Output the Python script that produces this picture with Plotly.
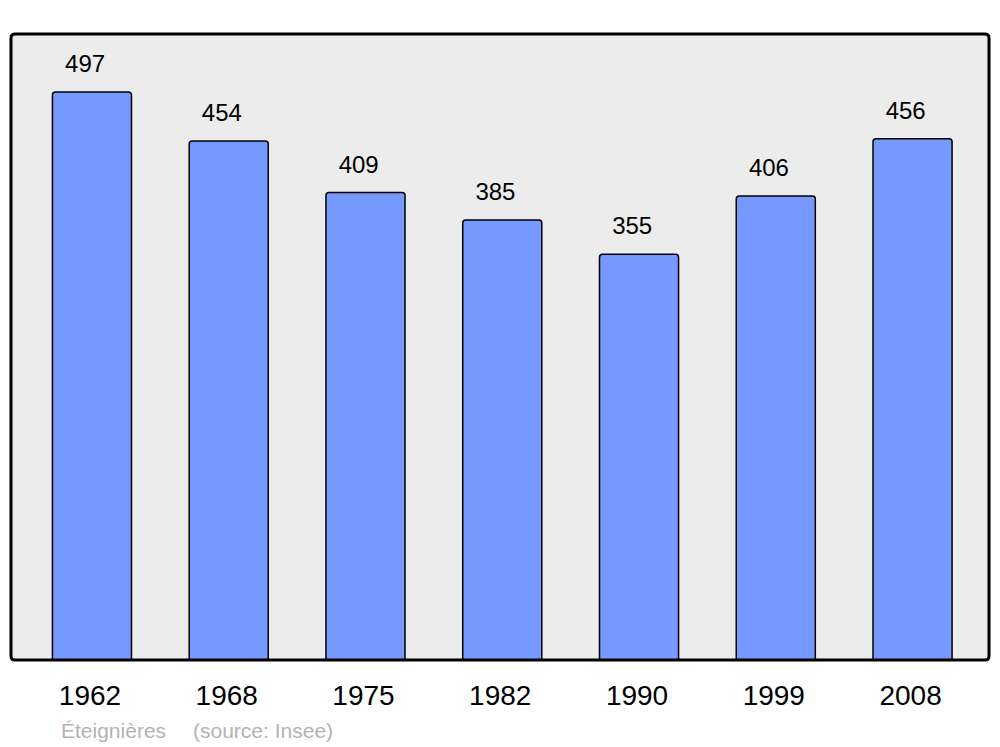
import plotly.graph_objects as go

years = ["1962", "1968", "1975", "1982", "1990", "1999", "2008"]
population = [497, 454, 409, 385, 355, 406, 456]
commune = "Éteignières"
source = "(source: Insee)"

W, H = 1000, 747
plot_w, plot_h = 978, 626
px_per_unit = 568 / 497
label_gap = 26 / px_per_unit

fig = go.Figure()

fig.add_trace(go.Bar(
    x=list(range(len(years))), y=population,
    width=0.578,
    marker=dict(color="#7599ff", line=dict(color="black", width=1.5), cornerradius=3),
    hoverinfo="none", showlegend=False,
))

# value labels above each bar
fig.add_trace(go.Scatter(
    x=[i - 0.05 for i in range(len(years))],
    y=[v + label_gap for v in population],
    mode="text", text=[str(v) for v in population],
    textposition="middle center",
    textfont=dict(size=24, color="black", family="Liberation Sans"),
    hoverinfo="none", showlegend=False, cliponaxis=False,
))

# plot frame with rounded corners
rx, ry = 4 / plot_w, 4 / plot_h
frame = (f"M {rx},0 L {1-rx},0 Q 1,0 1,{ry} L 1,{1-ry} Q 1,1 {1-rx},1 "
         f"L {rx},1 Q 0,1 0,{1-ry} L 0,{ry} Q 0,0 {rx},0 Z")
fig.add_shape(type="path", path=frame, xref="paper", yref="paper",
              line=dict(color="black", width=3), fillcolor="rgba(0,0,0,0)", layer="above")

fig.add_annotation(text=commune, xref="paper", yref="paper", x=0.0491, y=-0.112,
                   xanchor="left", yanchor="middle", showarrow=False,
                   font=dict(size=21, color="#b3b3b3", family="Liberation Sans"))
fig.add_annotation(text=source, xref="paper", yref="paper", x=0.184, y=-0.112,
                   xanchor="left", yanchor="middle", showarrow=False,
                   font=dict(size=21, color="#b3b3b3", family="Liberation Sans"))

fig.update_layout(
    width=W, height=H,
    margin=dict(l=3, r=19, t=26, b=95),
    paper_bgcolor="white", plot_bgcolor="#ececec",
    font=dict(family="Liberation Sans"),
    xaxis=dict(range=[-0.592, 6.559], tickmode="array",
               tickvals=list(range(len(years))), ticktext=years,
               tickfont=dict(size=28, color="black"),
               ticks="outside", ticklen=10, tickcolor="rgba(0,0,0,0)",
               ticklabelshift=-2,
               showgrid=False, zeroline=False, showline=False),
    yaxis=dict(range=[0, 547.7], visible=False, showgrid=False, zeroline=False),
)

fig.write_html("out.html")
